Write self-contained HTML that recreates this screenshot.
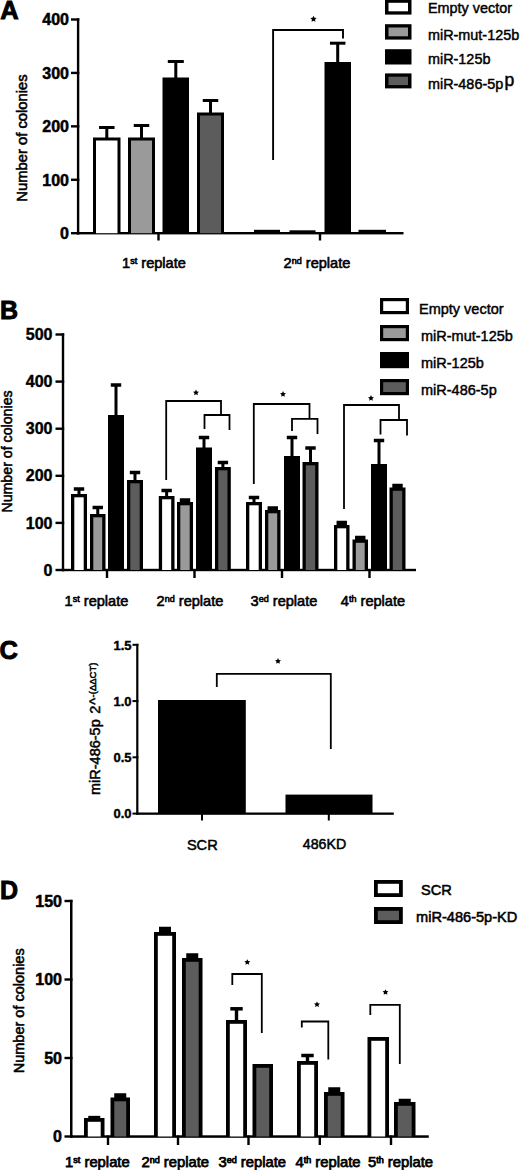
<!DOCTYPE html>
<html><head><meta charset="utf-8"><style>
html,body{margin:0;padding:0;background:#fff;width:520px;height:1170px;overflow:hidden}
svg{display:block}
text{font-family:"Liberation Sans", sans-serif;fill:#000}
</style></head><body>
<svg width="520" height="1170" viewBox="0 0 520 1170">
<text x="0.30" y="19.00" font-size="25.5" font-weight="bold" text-anchor="start" stroke="#000" stroke-width="0.9" paint-order="stroke" >A</text>
<rect x="76.90" y="18.30" width="2.40" height="216.10" fill="#000"/>
<rect x="71.00" y="232.00" width="8.30" height="2.40" fill="#000"/>
<text x="69.00" y="239.00" font-size="16" font-weight="bold" text-anchor="end" stroke="#000" stroke-width="0.5" paint-order="stroke" >0</text>
<rect x="71.00" y="178.57" width="8.30" height="2.40" fill="#000"/>
<text x="69.00" y="185.57" font-size="16" font-weight="bold" text-anchor="end" stroke="#000" stroke-width="0.5" paint-order="stroke" >100</text>
<rect x="71.00" y="125.15" width="8.30" height="2.40" fill="#000"/>
<text x="69.00" y="132.15" font-size="16" font-weight="bold" text-anchor="end" stroke="#000" stroke-width="0.5" paint-order="stroke" >200</text>
<rect x="71.00" y="71.72" width="8.30" height="2.40" fill="#000"/>
<text x="69.00" y="78.72" font-size="16" font-weight="bold" text-anchor="end" stroke="#000" stroke-width="0.5" paint-order="stroke" >300</text>
<rect x="71.00" y="18.30" width="8.30" height="2.40" fill="#000"/>
<text x="69.00" y="25.30" font-size="16" font-weight="bold" text-anchor="end" stroke="#000" stroke-width="0.5" paint-order="stroke" >400</text>
<text transform="translate(27.40,138.00) rotate(-90)" x="0" y="0" font-size="14.8" font-weight="normal" text-anchor="middle" stroke="#000" stroke-width="0.55" paint-order="stroke">Number of colonies</text>
<rect x="76.90" y="232.00" width="326.60" height="2.40" fill="#000"/>
<rect x="157.30" y="232.50" width="2.40" height="8.00" fill="#000"/>
<rect x="318.80" y="232.50" width="2.40" height="8.00" fill="#000"/>
<text x="154.00" y="267.50" font-size="14.6" font-weight="normal" text-anchor="middle" stroke="#000" stroke-width="0.6" paint-order="stroke" >1<tspan font-size="9" dy="-4">st</tspan><tspan dy="4"> replate</tspan></text>
<text x="317.00" y="267.80" font-size="14.6" font-weight="normal" text-anchor="middle" stroke="#000" stroke-width="0.6" paint-order="stroke" >2<tspan font-size="9" dy="-4">nd</tspan><tspan dy="4"> replate</tspan></text>
<rect x="93.00" y="137.50" width="27.50" height="95.70" fill="#000"/>
<rect x="96.00" y="140.50" width="21.50" height="92.70" fill="#fff"/>
<rect x="105.30" y="127.50" width="3.00" height="11.00" fill="#000"/>
<rect x="99.05" y="126.00" width="15.50" height="3.00" fill="#000"/>
<rect x="128.00" y="137.50" width="27.00" height="95.70" fill="#000"/>
<rect x="131.00" y="140.50" width="21.00" height="92.70" fill="#9a9a9a"/>
<rect x="140.00" y="125.50" width="3.00" height="13.00" fill="#000"/>
<rect x="133.75" y="124.00" width="15.50" height="3.00" fill="#000"/>
<rect x="162.50" y="77.50" width="26.50" height="155.70" fill="#000"/>
<rect x="174.30" y="61.50" width="3.00" height="17.00" fill="#000"/>
<rect x="167.80" y="60.00" width="16.00" height="3.00" fill="#000"/>
<rect x="197.00" y="112.50" width="27.00" height="120.70" fill="#000"/>
<rect x="200.00" y="115.50" width="21.00" height="117.70" fill="#5c5c5c"/>
<rect x="209.00" y="100.50" width="3.00" height="13.00" fill="#000"/>
<rect x="202.75" y="99.00" width="15.50" height="3.00" fill="#000"/>
<rect x="254.00" y="229.80" width="26.00" height="3.40" fill="#000"/>
<rect x="289.50" y="230.30" width="26.00" height="2.90" fill="#000"/>
<rect x="324.50" y="62.00" width="26.50" height="171.20" fill="#000"/>
<rect x="336.20" y="43.20" width="3.00" height="19.80" fill="#000"/>
<rect x="329.95" y="41.70" width="15.50" height="3.00" fill="#000"/>
<rect x="358.50" y="229.80" width="27.50" height="3.40" fill="#000"/>
<polyline points="273.10,160.00 273.10,30.00 343.00,30.00 343.00,38.50" fill="none" stroke="#000" stroke-width="1.9" stroke-linejoin="miter" stroke-linecap="butt"/>
<polygon points="313.50,15.70 314.47,17.67 316.64,17.98 315.07,19.51 315.44,21.67 313.50,20.65 311.56,21.67 311.93,19.51 310.36,17.98 312.53,17.67" fill="#000"/>
<rect x="385.00" y="-0.50" width="26.50" height="15.10" fill="#000"/>
<rect x="388.50" y="2.80" width="19.50" height="8.50" fill="#fff"/>
<text x="428.00" y="12.50" font-size="14.4" font-weight="normal" text-anchor="start" stroke="#000" stroke-width="0.45" paint-order="stroke" >Empty vector</text>
<rect x="385.00" y="24.20" width="26.50" height="15.40" fill="#000"/>
<rect x="388.50" y="27.50" width="19.50" height="8.80" fill="#9a9a9a"/>
<text x="428.00" y="40.00" font-size="14.4" font-weight="normal" text-anchor="start" stroke="#000" stroke-width="0.45" paint-order="stroke" >miR-mut-125b</text>
<rect x="385.00" y="49.20" width="26.50" height="15.30" fill="#000"/>
<text x="428.00" y="64.20" font-size="14.4" font-weight="normal" text-anchor="start" stroke="#000" stroke-width="0.45" paint-order="stroke" >miR-125b</text>
<rect x="385.00" y="73.40" width="26.50" height="15.00" fill="#000"/>
<rect x="388.50" y="76.70" width="19.50" height="8.40" fill="#5c5c5c"/>
<text x="428.00" y="89.00" font-size="14.4" font-weight="normal" text-anchor="start" stroke="#000" stroke-width="0.45" paint-order="stroke" >miR-486-5p</text>
<text x="504.60" y="86.00" font-size="17.5" font-weight="normal" text-anchor="start" stroke="#000" stroke-width="0.5" paint-order="stroke" >p</text>
<text x="-0.10" y="318.70" font-size="25" font-weight="bold" text-anchor="start" stroke="#000" stroke-width="0.9" paint-order="stroke" >B</text>
<rect x="61.80" y="333.30" width="2.40" height="237.90" fill="#000"/>
<rect x="55.50" y="568.80" width="8.70" height="2.40" fill="#000"/>
<text x="52.50" y="575.60" font-size="16" font-weight="bold" text-anchor="end" stroke="#000" stroke-width="0.4" paint-order="stroke" >0</text>
<rect x="55.50" y="521.70" width="8.70" height="2.40" fill="#000"/>
<text x="52.50" y="528.50" font-size="16" font-weight="bold" text-anchor="end" stroke="#000" stroke-width="0.4" paint-order="stroke" >100</text>
<rect x="55.50" y="474.60" width="8.70" height="2.40" fill="#000"/>
<text x="52.50" y="481.40" font-size="16" font-weight="bold" text-anchor="end" stroke="#000" stroke-width="0.4" paint-order="stroke" >200</text>
<rect x="55.50" y="427.50" width="8.70" height="2.40" fill="#000"/>
<text x="52.50" y="434.30" font-size="16" font-weight="bold" text-anchor="end" stroke="#000" stroke-width="0.4" paint-order="stroke" >300</text>
<rect x="55.50" y="380.40" width="8.70" height="2.40" fill="#000"/>
<text x="52.50" y="387.20" font-size="16" font-weight="bold" text-anchor="end" stroke="#000" stroke-width="0.4" paint-order="stroke" >400</text>
<rect x="55.50" y="333.30" width="8.70" height="2.40" fill="#000"/>
<text x="52.50" y="340.10" font-size="16" font-weight="bold" text-anchor="end" stroke="#000" stroke-width="0.4" paint-order="stroke" >500</text>
<text transform="translate(12.30,451.50) rotate(-90)" x="0" y="0" font-size="14.2" font-weight="normal" text-anchor="middle" stroke="#000" stroke-width="0.55" paint-order="stroke">Number of colonies</text>
<rect x="61.80" y="568.80" width="354.20" height="2.40" fill="#000"/>
<rect x="105.80" y="569.00" width="2.40" height="9.00" fill="#000"/>
<rect x="193.30" y="569.00" width="2.40" height="9.00" fill="#000"/>
<rect x="280.80" y="569.00" width="2.40" height="9.00" fill="#000"/>
<rect x="368.30" y="569.00" width="2.40" height="9.00" fill="#000"/>
<text x="96.50" y="605.60" font-size="14.6" font-weight="normal" text-anchor="middle" stroke="#000" stroke-width="0.6" paint-order="stroke" >1<tspan font-size="9" dy="-4">st</tspan><tspan dy="4"> replate</tspan></text>
<text x="190.00" y="605.60" font-size="14.6" font-weight="normal" text-anchor="middle" stroke="#000" stroke-width="0.6" paint-order="stroke" >2<tspan font-size="9" dy="-4">nd</tspan><tspan dy="4"> replate</tspan></text>
<text x="284.00" y="605.60" font-size="14.6" font-weight="normal" text-anchor="middle" stroke="#000" stroke-width="0.6" paint-order="stroke" >3<tspan font-size="9" dy="-4">ed</tspan><tspan dy="4"> replate</tspan></text>
<text x="373.00" y="605.60" font-size="14.6" font-weight="normal" text-anchor="middle" stroke="#000" stroke-width="0.6" paint-order="stroke" >4<tspan font-size="9" dy="-4">th</tspan><tspan dy="4"> replate</tspan></text>
<rect x="71.00" y="494.00" width="16.00" height="76.00" fill="#000"/>
<rect x="74.30" y="497.30" width="9.40" height="72.70" fill="#fff"/>
<rect x="77.50" y="489.00" width="3.00" height="6.00" fill="#000"/>
<rect x="73.80" y="487.25" width="10.40" height="3.50" fill="#000"/>
<rect x="90.00" y="514.00" width="15.50" height="56.00" fill="#000"/>
<rect x="93.30" y="517.30" width="8.90" height="52.70" fill="#9a9a9a"/>
<rect x="96.25" y="507.50" width="3.00" height="7.50" fill="#000"/>
<rect x="92.55" y="505.75" width="10.40" height="3.50" fill="#000"/>
<rect x="108.00" y="415.00" width="16.00" height="155.00" fill="#000"/>
<rect x="114.50" y="385.00" width="3.00" height="31.00" fill="#000"/>
<rect x="110.80" y="383.25" width="10.40" height="3.50" fill="#000"/>
<rect x="127.00" y="480.00" width="16.00" height="90.00" fill="#000"/>
<rect x="130.30" y="483.30" width="9.40" height="86.70" fill="#5c5c5c"/>
<rect x="133.50" y="472.50" width="3.00" height="8.50" fill="#000"/>
<rect x="129.80" y="470.75" width="10.40" height="3.50" fill="#000"/>
<rect x="158.80" y="496.00" width="15.70" height="74.00" fill="#000"/>
<rect x="162.10" y="499.30" width="9.10" height="70.70" fill="#fff"/>
<rect x="165.15" y="490.50" width="3.00" height="6.50" fill="#000"/>
<rect x="161.45" y="488.75" width="10.40" height="3.50" fill="#000"/>
<rect x="177.00" y="502.00" width="16.00" height="68.00" fill="#000"/>
<rect x="180.30" y="505.30" width="9.40" height="64.70" fill="#9a9a9a"/>
<rect x="179.80" y="498.25" width="10.40" height="4.75" fill="#000"/>
<rect x="196.00" y="447.50" width="16.00" height="122.50" fill="#000"/>
<rect x="202.50" y="437.50" width="3.00" height="11.00" fill="#000"/>
<rect x="198.80" y="435.75" width="10.40" height="3.50" fill="#000"/>
<rect x="215.00" y="467.00" width="15.80" height="103.00" fill="#000"/>
<rect x="218.30" y="470.30" width="9.20" height="99.70" fill="#5c5c5c"/>
<rect x="221.40" y="462.50" width="3.00" height="5.50" fill="#000"/>
<rect x="217.70" y="460.75" width="10.40" height="3.50" fill="#000"/>
<rect x="246.00" y="502.00" width="16.00" height="68.00" fill="#000"/>
<rect x="249.30" y="505.30" width="9.40" height="64.70" fill="#fff"/>
<rect x="252.50" y="497.50" width="3.00" height="5.50" fill="#000"/>
<rect x="248.80" y="495.75" width="10.40" height="3.50" fill="#000"/>
<rect x="265.00" y="510.00" width="15.50" height="60.00" fill="#000"/>
<rect x="268.30" y="513.30" width="8.90" height="56.70" fill="#9a9a9a"/>
<rect x="267.55" y="506.25" width="10.40" height="4.75" fill="#000"/>
<rect x="284.00" y="456.00" width="16.00" height="114.00" fill="#000"/>
<rect x="290.50" y="437.50" width="3.00" height="19.50" fill="#000"/>
<rect x="286.80" y="435.75" width="10.40" height="3.50" fill="#000"/>
<rect x="302.50" y="462.00" width="16.00" height="108.00" fill="#000"/>
<rect x="305.80" y="465.30" width="9.40" height="104.70" fill="#5c5c5c"/>
<rect x="309.00" y="448.00" width="3.00" height="15.00" fill="#000"/>
<rect x="305.30" y="446.25" width="10.40" height="3.50" fill="#000"/>
<rect x="334.00" y="525.00" width="15.50" height="45.00" fill="#000"/>
<rect x="337.30" y="528.30" width="8.90" height="41.70" fill="#fff"/>
<rect x="336.55" y="520.75" width="10.40" height="5.25" fill="#000"/>
<rect x="352.50" y="539.50" width="15.50" height="30.50" fill="#000"/>
<rect x="355.80" y="542.80" width="8.90" height="27.20" fill="#9a9a9a"/>
<rect x="355.05" y="535.75" width="10.40" height="4.75" fill="#000"/>
<rect x="371.00" y="464.00" width="16.00" height="106.00" fill="#000"/>
<rect x="377.50" y="440.50" width="3.00" height="24.50" fill="#000"/>
<rect x="373.80" y="438.75" width="10.40" height="3.50" fill="#000"/>
<rect x="389.50" y="487.50" width="16.00" height="82.50" fill="#000"/>
<rect x="392.80" y="490.80" width="9.40" height="79.20" fill="#5c5c5c"/>
<rect x="392.30" y="483.75" width="10.40" height="4.75" fill="#000"/>
<polyline points="166.20,480.00 166.20,401.00 221.00,401.00 221.00,414.00" fill="none" stroke="#000" stroke-width="1.8" stroke-linejoin="miter" stroke-linecap="butt"/>
<polyline points="204.50,429.00 204.50,415.00 229.50,415.00 229.50,430.00" fill="none" stroke="#000" stroke-width="1.8" stroke-linejoin="miter" stroke-linecap="butt"/>
<polygon points="196.00,389.60 196.91,391.45 198.95,391.74 197.47,393.18 197.82,395.21 196.00,394.25 194.18,395.21 194.53,393.18 193.05,391.74 195.09,391.45" fill="#000"/>
<polyline points="253.80,484.00 253.80,404.00 309.50,404.00 309.50,418.50" fill="none" stroke="#000" stroke-width="1.8" stroke-linejoin="miter" stroke-linecap="butt"/>
<polyline points="292.00,431.00 292.00,418.80 317.50,418.80 317.50,434.00" fill="none" stroke="#000" stroke-width="1.8" stroke-linejoin="miter" stroke-linecap="butt"/>
<polygon points="283.00,391.10 283.91,392.95 285.95,393.24 284.47,394.68 284.82,396.71 283.00,395.75 281.18,396.71 281.53,394.68 280.05,393.24 282.09,392.95" fill="#000"/>
<polyline points="344.00,509.00 344.00,405.00 399.00,405.00 399.00,420.00" fill="none" stroke="#000" stroke-width="1.8" stroke-linejoin="miter" stroke-linecap="butt"/>
<polyline points="380.50,434.50 380.50,420.00 407.00,420.00 407.00,435.50" fill="none" stroke="#000" stroke-width="1.8" stroke-linejoin="miter" stroke-linecap="butt"/>
<polygon points="371.00,395.10 371.91,396.95 373.95,397.24 372.47,398.68 372.82,400.71 371.00,399.75 369.18,400.71 369.53,398.68 368.05,397.24 370.09,396.95" fill="#000"/>
<rect x="380.00" y="298.00" width="29.00" height="16.20" fill="#000"/>
<rect x="383.20" y="301.20" width="22.60" height="9.80" fill="#fff"/>
<text x="419.00" y="313.60" font-size="14.5" font-weight="normal" text-anchor="start" stroke="#000" stroke-width="0.45" paint-order="stroke" >Empty vector</text>
<rect x="380.00" y="325.00" width="29.00" height="16.20" fill="#000"/>
<rect x="383.20" y="328.20" width="22.60" height="9.80" fill="#9a9a9a"/>
<text x="421.00" y="340.60" font-size="14.5" font-weight="normal" text-anchor="start" stroke="#000" stroke-width="0.45" paint-order="stroke" >miR-mut-125b</text>
<rect x="380.00" y="352.00" width="29.00" height="16.20" fill="#000"/>
<text x="421.00" y="367.60" font-size="14.5" font-weight="normal" text-anchor="start" stroke="#000" stroke-width="0.45" paint-order="stroke" >miR-125b</text>
<rect x="380.00" y="379.00" width="29.00" height="16.20" fill="#000"/>
<rect x="383.20" y="382.20" width="22.60" height="9.80" fill="#5c5c5c"/>
<text x="421.00" y="394.60" font-size="14.5" font-weight="normal" text-anchor="start" stroke="#000" stroke-width="0.45" paint-order="stroke" >miR-486-5p</text>
<text x="-0.40" y="658.80" font-size="25.5" font-weight="bold" text-anchor="start" stroke="#000" stroke-width="0.9" paint-order="stroke" >C</text>
<rect x="136.20" y="643.80" width="2.20" height="170.80" fill="#000"/>
<rect x="132.50" y="812.60" width="5.90" height="2.00" fill="#000"/>
<text x="131.50" y="818.30" font-size="13" font-weight="bold" text-anchor="end" stroke="#000" stroke-width="0.4" paint-order="stroke" >0.0</text>
<rect x="132.50" y="756.33" width="5.90" height="2.00" fill="#000"/>
<text x="131.50" y="762.03" font-size="13" font-weight="bold" text-anchor="end" stroke="#000" stroke-width="0.4" paint-order="stroke" >0.5</text>
<rect x="132.50" y="700.07" width="5.90" height="2.00" fill="#000"/>
<text x="131.50" y="705.77" font-size="13" font-weight="bold" text-anchor="end" stroke="#000" stroke-width="0.4" paint-order="stroke" >1.0</text>
<rect x="132.50" y="643.80" width="5.90" height="2.00" fill="#000"/>
<text x="131.50" y="649.50" font-size="13" font-weight="bold" text-anchor="end" stroke="#000" stroke-width="0.4" paint-order="stroke" >1.5</text>
<text transform="translate(100.2,795.0) rotate(-90)" x="0" y="0" font-size="14.5" stroke="#000" stroke-width="0.5" paint-order="stroke">miR-486-5p<tspan x="81.3">2</tspan><tspan x="90.2">^</tspan><tspan x="97.6" font-size="9.5" dy="-3.8">-(ΔΔCT)</tspan></text>
<rect x="136.20" y="812.50" width="257.60" height="2.30" fill="#000"/>
<rect x="201.00" y="813.00" width="2.00" height="7.50" fill="#000"/>
<rect x="327.80" y="813.00" width="2.00" height="7.50" fill="#000"/>
<text x="202.30" y="849.80" font-size="14.6" font-weight="normal" text-anchor="middle" stroke="#000" stroke-width="0.5" paint-order="stroke" >SCR</text>
<text x="324.50" y="849.00" font-size="14.2" font-weight="normal" text-anchor="middle" stroke="#000" stroke-width="0.5" paint-order="stroke" >486KD</text>
<rect x="158.00" y="700.00" width="87.80" height="113.60" fill="#000"/>
<rect x="285.50" y="794.60" width="87.00" height="19.00" fill="#000"/>
<polyline points="216.80,687.00 216.80,673.80 330.80,673.80 330.80,749.00" fill="none" stroke="#000" stroke-width="1.8" stroke-linejoin="miter" stroke-linecap="butt"/>
<polygon points="278.00,658.10 278.91,659.95 280.95,660.24 279.47,661.68 279.82,663.71 278.00,662.75 276.18,663.71 276.53,661.68 275.05,660.24 277.09,659.95" fill="#000"/>
<text x="-0.10" y="898.70" font-size="25" font-weight="bold" text-anchor="start" stroke="#000" stroke-width="0.9" paint-order="stroke" >D</text>
<rect x="70.00" y="899.80" width="2.50" height="237.90" fill="#000"/>
<rect x="64.50" y="1135.30" width="8.00" height="2.40" fill="#000"/>
<text x="62.00" y="1142.30" font-size="16" font-weight="bold" text-anchor="end" stroke="#000" stroke-width="0.5" paint-order="stroke" >0</text>
<rect x="64.50" y="1056.80" width="8.00" height="2.40" fill="#000"/>
<text x="62.00" y="1063.80" font-size="16" font-weight="bold" text-anchor="end" stroke="#000" stroke-width="0.5" paint-order="stroke" >50</text>
<rect x="64.50" y="978.30" width="8.00" height="2.40" fill="#000"/>
<text x="62.00" y="985.30" font-size="16" font-weight="bold" text-anchor="end" stroke="#000" stroke-width="0.5" paint-order="stroke" >100</text>
<rect x="64.50" y="899.80" width="8.00" height="2.40" fill="#000"/>
<text x="62.00" y="906.80" font-size="16" font-weight="bold" text-anchor="end" stroke="#000" stroke-width="0.5" paint-order="stroke" >150</text>
<text transform="translate(24.30,1010.80) rotate(-90)" x="0" y="0" font-size="14.5" font-weight="normal" text-anchor="middle" stroke="#000" stroke-width="0.55" paint-order="stroke">Number of colonies</text>
<rect x="70.00" y="1135.30" width="358.80" height="2.50" fill="#000"/>
<rect x="106.80" y="1135.50" width="2.40" height="9.50" fill="#000"/>
<rect x="176.80" y="1135.50" width="2.40" height="9.50" fill="#000"/>
<rect x="247.30" y="1135.50" width="2.40" height="9.50" fill="#000"/>
<rect x="318.60" y="1135.50" width="2.40" height="9.50" fill="#000"/>
<rect x="389.80" y="1135.50" width="2.40" height="9.50" fill="#000"/>
<text x="97.40" y="1166.50" font-size="14.8" font-weight="normal" text-anchor="middle" stroke="#000" stroke-width="0.75" paint-order="stroke" >1<tspan font-size="9" dy="-4">st</tspan><tspan dy="4"> replate</tspan></text>
<text x="175.30" y="1166.50" font-size="14.8" font-weight="normal" text-anchor="middle" stroke="#000" stroke-width="0.75" paint-order="stroke" >2<tspan font-size="9" dy="-4">nd</tspan><tspan dy="4"> replate</tspan></text>
<text x="252.30" y="1166.50" font-size="14.8" font-weight="normal" text-anchor="middle" stroke="#000" stroke-width="0.75" paint-order="stroke" >3<tspan font-size="9" dy="-4">ed</tspan><tspan dy="4"> replate</tspan></text>
<text x="328.00" y="1166.50" font-size="14.8" font-weight="normal" text-anchor="middle" stroke="#000" stroke-width="0.75" paint-order="stroke" >4<tspan font-size="9" dy="-4">th</tspan><tspan dy="4"> replate</tspan></text>
<text x="400.50" y="1166.50" font-size="14.8" font-weight="normal" text-anchor="middle" stroke="#000" stroke-width="0.75" paint-order="stroke" >5<tspan font-size="9" dy="-4">th</tspan><tspan dy="4"> replate</tspan></text>
<rect x="84.00" y="1118.00" width="20.50" height="18.50" fill="#000"/>
<rect x="87.80" y="1121.80" width="12.90" height="14.70" fill="#fff"/>
<rect x="88.25" y="1115.85" width="12.00" height="3.15" fill="#000"/>
<rect x="110.50" y="1097.50" width="19.50" height="39.00" fill="#000"/>
<rect x="114.30" y="1101.30" width="11.90" height="35.20" fill="#5c5c5c"/>
<rect x="114.25" y="1093.25" width="12.00" height="5.25" fill="#000"/>
<rect x="154.00" y="932.00" width="22.00" height="204.50" fill="#000"/>
<rect x="157.80" y="935.80" width="14.40" height="200.70" fill="#fff"/>
<rect x="159.00" y="926.75" width="12.00" height="6.25" fill="#000"/>
<rect x="182.00" y="958.00" width="20.50" height="178.50" fill="#000"/>
<rect x="185.80" y="961.80" width="12.90" height="174.70" fill="#5c5c5c"/>
<rect x="186.25" y="953.25" width="12.00" height="5.75" fill="#000"/>
<rect x="226.00" y="1020.00" width="21.00" height="116.50" fill="#000"/>
<rect x="229.80" y="1023.80" width="13.40" height="112.70" fill="#fff"/>
<rect x="234.80" y="1008.80" width="3.40" height="12.20" fill="#000"/>
<rect x="230.30" y="1007.05" width="12.40" height="3.50" fill="#000"/>
<rect x="252.50" y="1064.00" width="20.50" height="72.50" fill="#000"/>
<rect x="256.30" y="1067.80" width="12.90" height="68.70" fill="#5c5c5c"/>
<rect x="297.00" y="1061.00" width="21.00" height="75.50" fill="#000"/>
<rect x="300.80" y="1064.80" width="13.40" height="71.70" fill="#fff"/>
<rect x="305.80" y="1055.50" width="3.40" height="6.50" fill="#000"/>
<rect x="301.30" y="1053.75" width="12.40" height="3.50" fill="#000"/>
<rect x="324.00" y="1092.00" width="20.50" height="44.50" fill="#000"/>
<rect x="327.80" y="1095.80" width="12.90" height="40.70" fill="#5c5c5c"/>
<rect x="328.25" y="1087.25" width="12.00" height="5.75" fill="#000"/>
<rect x="367.50" y="1037.00" width="21.50" height="99.50" fill="#000"/>
<rect x="371.30" y="1040.80" width="13.90" height="95.70" fill="#fff"/>
<rect x="394.00" y="1102.00" width="21.50" height="34.50" fill="#000"/>
<rect x="397.80" y="1105.80" width="13.90" height="30.70" fill="#5c5c5c"/>
<rect x="398.75" y="1098.75" width="12.00" height="4.25" fill="#000"/>
<polyline points="232.30,985.00 232.30,974.00 261.80,974.00 261.80,1033.00" fill="none" stroke="#000" stroke-width="1.8" stroke-linejoin="miter" stroke-linecap="butt"/>
<polygon points="247.30,959.20 248.21,961.05 250.25,961.34 248.77,962.78 249.12,964.81 247.30,963.85 245.48,964.81 245.83,962.78 244.35,961.34 246.39,961.05" fill="#000"/>
<polyline points="301.80,1027.50 301.80,1021.50 328.30,1021.50 328.30,1059.50" fill="none" stroke="#000" stroke-width="1.8" stroke-linejoin="miter" stroke-linecap="butt"/>
<polygon points="317.00,1001.40 317.91,1003.25 319.95,1003.54 318.47,1004.98 318.82,1007.01 317.00,1006.05 315.18,1007.01 315.53,1004.98 314.05,1003.54 316.09,1003.25" fill="#000"/>
<polyline points="370.30,1015.00 370.30,1004.80 399.80,1004.80 399.80,1064.00" fill="none" stroke="#000" stroke-width="1.8" stroke-linejoin="miter" stroke-linecap="butt"/>
<polygon points="385.50,989.20 386.41,991.05 388.45,991.34 386.97,992.78 387.32,994.81 385.50,993.85 383.68,994.81 384.03,992.78 382.55,991.34 384.59,991.05" fill="#000"/>
<rect x="374.00" y="880.00" width="28.80" height="17.00" fill="#000"/>
<rect x="377.80" y="883.80" width="21.20" height="9.40" fill="#fff"/>
<text x="421.00" y="894.80" font-size="14.6" font-weight="normal" text-anchor="start" stroke="#000" stroke-width="0.55" paint-order="stroke" >SCR</text>
<rect x="374.00" y="907.00" width="28.80" height="17.00" fill="#000"/>
<rect x="377.80" y="910.80" width="21.20" height="9.40" fill="#5c5c5c"/>
<text x="416.00" y="921.80" font-size="14.6" font-weight="normal" text-anchor="start" stroke="#000" stroke-width="0.55" paint-order="stroke" >miR-486-5p-KD</text>
</svg>
</body></html>
